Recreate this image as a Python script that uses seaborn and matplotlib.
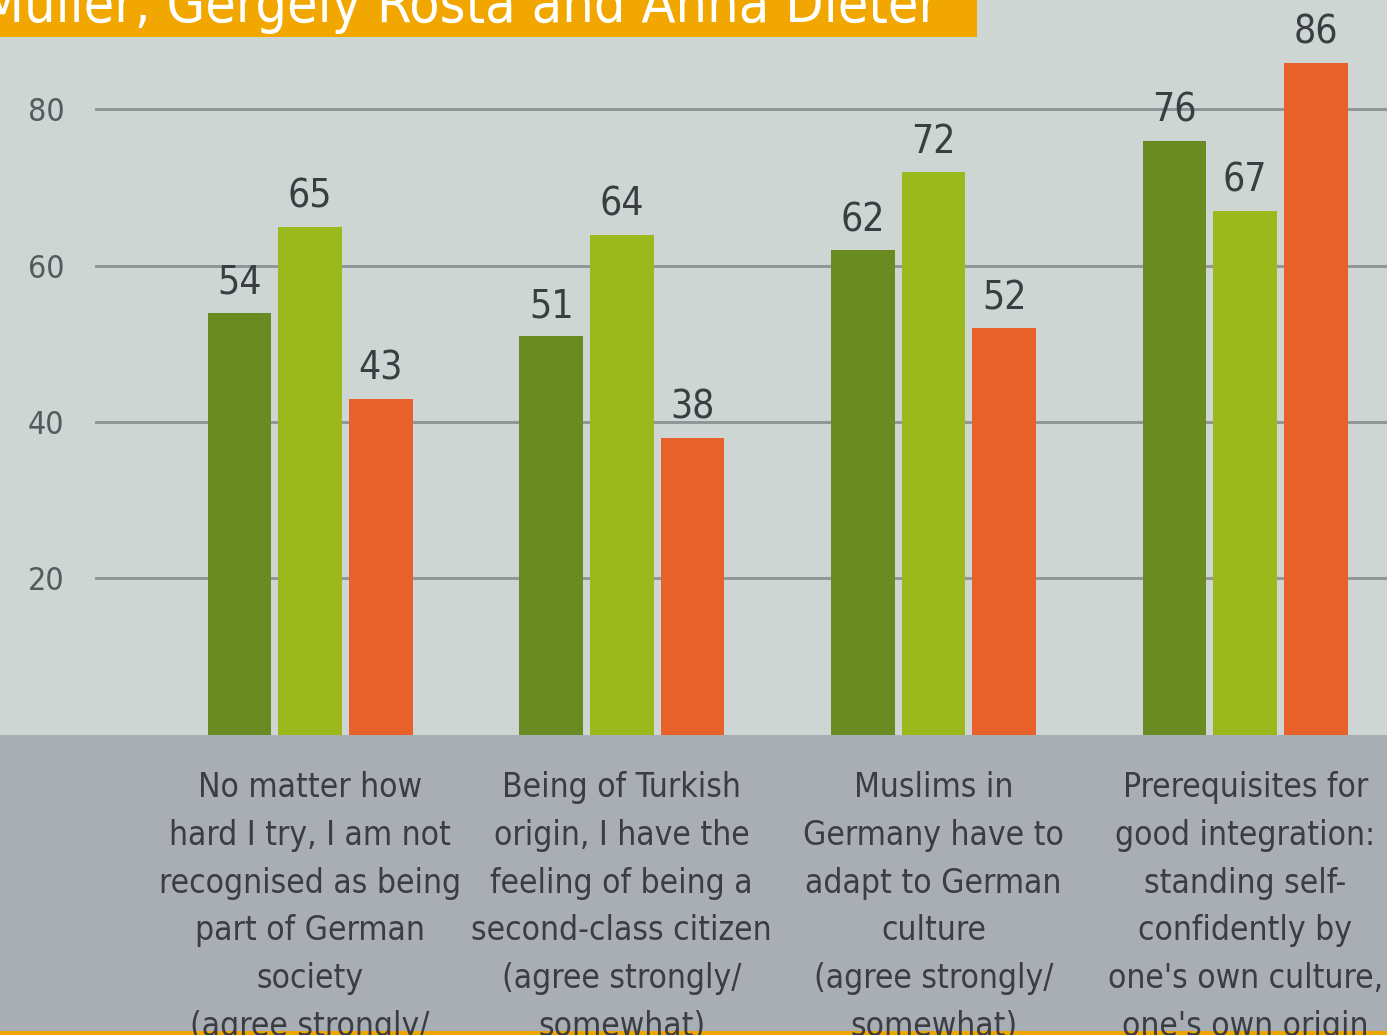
import matplotlib
matplotlib.use('Agg')
import matplotlib.pyplot as plt
from matplotlib.patches import Rectangle
import pandas as pd
import seaborn as sns

# statements (x categories), as printed under the bars
statements = [
    "No matter how\nhard I try, I am not\nrecognised as being\npart of German\nsociety\n(agree strongly/\nsomewhat)",
    "Being of Turkish\norigin, I have the\nfeeling of being a\nsecond-class citizen\n(agree strongly/\nsomewhat)",
    "Muslims in\nGermany have to\nadapt to German\nculture\n(agree strongly/\nsomewhat)",
    "Prerequisites for\ngood integration:\nstanding self-\nconfidently by\none's own culture,\none's own origin",
]
series = ["Series A", "Series B", "Series C"]
values_a = [54, 51, 62, 76]
values_b = [65, 64, 72, 67]
values_c = [43, 38, 52, 86]
yticks = [20, 40, 60, 80]
banner = "Müller, Gergely Rosta and Anna Dieter"

colors = ["#6a8a22", "#9bb81c", "#e8612b"]
bg_top = "#cdd6d3"
bg_band = "#a9aeb4"
text_col = "#3a3d42"

df = pd.DataFrame({
    "statement": statements * 3,
    "series": [s for s in series for _ in statements],
    "value": values_a + values_b + values_c,
})

sns.set_style("white")
plt.rcParams['font.family'] = ['DejaVu Sans']
plt.rcParams['font.stretch'] = 'condensed'

fig = plt.figure(figsize=(13.87, 10.35), dpi=100)
fig.patch.set_facecolor(bg_top)

# grey band behind the category labels
fig.patches.append(Rectangle((0, 0), 1, 0.29, transform=fig.transFigure,
                             facecolor=bg_band, edgecolor="none", zorder=-1))
# thin orange strip at the very bottom
fig.patches.append(Rectangle((0, 0), 1, 0.004, transform=fig.transFigure,
                             facecolor="#f0a400", edgecolor="none", zorder=-1))

ax = fig.add_axes([0.0685, 0.29, 0.9315, 0.71])
ax.set_facecolor("none")

sns.barplot(data=df, x="statement", y="value", hue="series", palette=colors,
            width=0.68, gap=0.1, saturation=1, legend=False, ax=ax,
            linewidth=0, edgecolor="none", zorder=3)

for cont in ax.containers:
    ax.bar_label(cont, padding=8, fontsize=28, color=text_col)

ax.set_ylim(0, 94)
ax.set_xlim(-0.69, 3.455)
ax.set_yticks(yticks)
ax.set_yticklabels([str(t) for t in yticks], fontsize=23, color="#555a5e")
ax.tick_params(axis="y", length=0, pad=22)
ax.yaxis.grid(True, color="#8d9294", linewidth=2)
ax.set_axisbelow(True)

ax.set_xticks(range(len(statements)))
ax.set_xticklabels(statements, fontsize=24, color=text_col, linespacing=1.57)
ax.tick_params(axis="x", length=0, pad=26)

ax.set_xlabel("")
ax.set_ylabel("")
for sp in ax.spines.values():
    sp.set_visible(False)

# orange title banner at top, cut off by the photo edge
fig.patches.append(Rectangle((0, 1 - 37 / 1035), 977 / 1387, 37 / 1035,
                             transform=fig.transFigure, facecolor="#f2a600",
                             edgecolor="none", zorder=5))
fig.text(-0.014, 1 - 22 / 1035, banner, fontsize=40, color="white",
         ha="left", va="baseline", zorder=6)

fig.savefig("out.png", dpi=100, facecolor=fig.get_facecolor())
